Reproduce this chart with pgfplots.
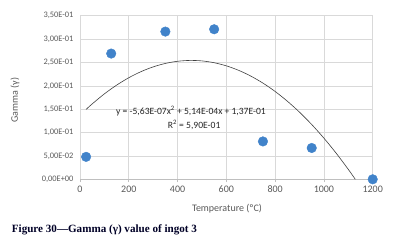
\documentclass[border=0pt]{standalone}
\usepackage{fontspec}
\setmainfont{Carlito}
\newfontfamily\capfont{Liberation Serif}
\usepackage{pgfplots}
\pgfplotsset{compat=1.18}
\definecolor{ptblue}{RGB}{65,131,202}
\definecolor{gridgray}{RGB}{217,217,217}
\definecolor{txtgray}{RGB}{89,89,89}
\definecolor{axgray}{RGB}{191,191,191}
\begin{document}
\begin{tikzpicture}
\useasboundingbox (0,0) rectangle (410pt,243pt);
\begin{axis}[
  at={(80pt,63.7pt)}, anchor=south west,
  scale only axis, width=292.7pt, height=163.6pt,
  xmin=0, xmax=1200, ymin=0, ymax=0.35,
  xtick={0,200,400,600,800,1000,1200},
  xticklabels={0,200,400,600,800,1000,1200},
  ytick={0,0.05,0.1,0.15,0.2,0.25,0.3,0.35},
  yticklabels={{0,00E+00},{5,00E-02},{1,00E-01},{1,50E-01},{2,00E-01},{2,50E-01},{3,00E-01},{3,50E-01}},
  x tick label style={font=\fontsize{10}{12}\selectfont, text=txtgray},
  y tick label style={font=\fontsize{8.4}{10}\selectfont, text=txtgray},
  grid=major, major grid style={color=gridgray, line width=0.6pt},
  axis x line*=bottom, axis y line*=left,
  x axis line style={color=axgray, line width=0.7pt, -},
  y axis line style={draw=none},
  xtick style={color=axgray, line width=0.6pt},
  ytick style={draw=none},
  tick align=outside, major tick length=3pt,
  clip=false,
]
\addplot[only marks, mark=*, mark size=4.8pt, color=ptblue, mark options={draw=ptblue, fill=ptblue}] coordinates {
  (25,0.048) (128,0.269) (350,0.316) (550,0.321) (750,0.081) (950,0.067) (1200,0.0)
};
\addplot[color=black!75, line width=0.6pt, smooth] coordinates {
  (25,0.1495) (50,0.1613) (100,0.1828) (150,0.2014) (200,0.2173) (250,0.2303)
  (300,0.2405) (350,0.2479) (400,0.2525) (450,0.2543) (500,0.2533) (550,0.2494)
  (600,0.2427) (650,0.2332) (700,0.2209) (750,0.2058) (800,0.1879) (850,0.1671)
  (900,0.1436) (950,0.1172) (1000,0.0880) (1050,0.0560) (1100,0.0212) (1128.6,0.0)
};
\node[font=\fontsize{9.6}{11}\selectfont, text=black!85] at (axis cs:455,0.146) {y = -5,63E-07x\textsuperscript{2} + 5,14E-04x + 1,37E-01};
\node[font=\fontsize{9.6}{11}\selectfont, text=black!85] at (axis cs:468,0.116) {R\textsuperscript{2} = 5,90E-01};
\end{axis}
\node[rotate=90, font=\fontsize{10}{12}\selectfont, text=txtgray] at (15pt,143pt) {Gamma (γ)};
\node[font=\fontsize{10}{12}\selectfont, text=txtgray] at (227pt,34pt) {Temperature (ºC)};
\node[anchor=west, inner sep=0pt, font=\capfont\bfseries\fontsize{11.1}{13}\selectfont, text=black!85!blue] at (11.7pt,13pt) {Figure 30—Gamma (γ) value of ingot 3};
\end{tikzpicture}
\end{document}
